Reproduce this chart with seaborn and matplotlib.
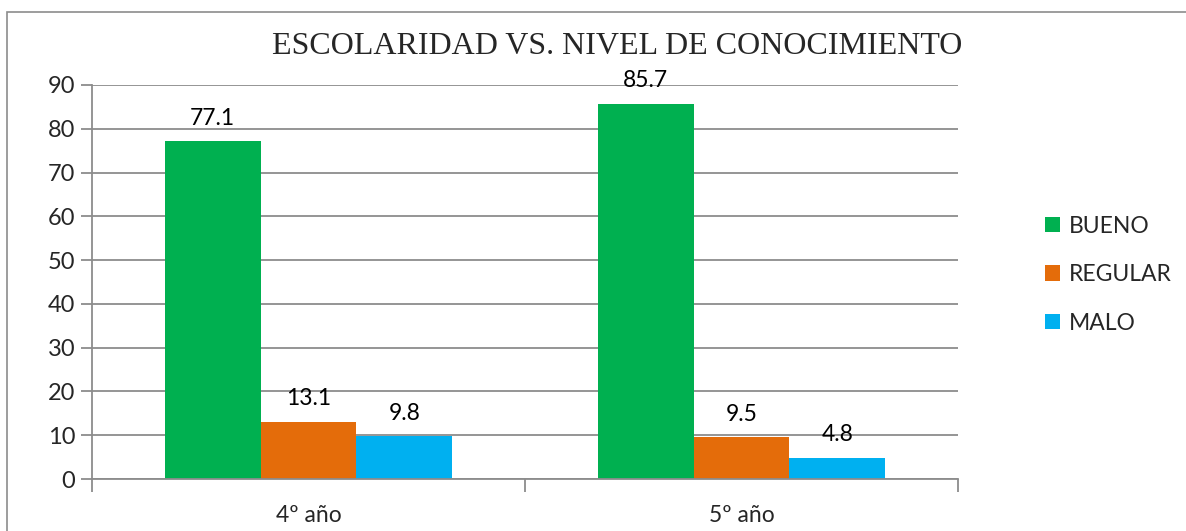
import matplotlib.pyplot as plt
import matplotlib.patches as patches
import seaborn as sns
import pandas as pd

categorias = ['4º año', '5º año']
niveles = ['BUENO', 'REGULAR', 'MALO']
bueno = [77.1, 85.7]
regular = [13.1, 9.5]
malo = [9.8, 4.8]
colores = ['#00B050', '#E46C0A', '#00B0F0']

df = pd.DataFrame({
    'ANIO': categorias * 3,
    'NIVEL': [n for n in niveles for _ in categorias],
    'VALOR': bueno + regular + malo,
})

sns.set_style('white')
plt.rcParams['font.family'] = ['Lato', 'DejaVu Sans']

fig = plt.figure(figsize=(11.86, 5.31), dpi=100)
ax = fig.add_axes([92 / 1186, 52 / 531, 866 / 1186, 394 / 531])

sns.barplot(data=df, x='ANIO', y='VALOR', hue='NIVEL', order=categorias,
            hue_order=niveles, palette=colores, width=0.665, gap=0,
            saturation=1, edgecolor='none', linewidth=0, ax=ax)

for cont in ax.containers:
    ax.bar_label(cont, fmt='%.1f', padding=9, fontsize=16.5, color='#000000')

gris = '#8c8c8c'
ax.set_ylim(0, 90)
ax.set_xlim(-0.5, 1.5)
ax.set_yticks(range(0, 91, 10))
ax.yaxis.grid(True, color=gris, linewidth=1.3)
ax.set_axisbelow(True)
ax.tick_params(axis='y', which='major', length=8, width=1.3, color=gris,
               labelsize=17, pad=4, left=True)

# marcas en los límites de categoría, etiquetas centradas
ax.set_xticks([-0.5, 0.5, 1.5])
ax.set_xticklabels(['', '', ''])
ax.set_xticks([0, 1], minor=True)
ax.set_xticklabels(categorias, minor=True)
ax.tick_params(axis='x', which='major', length=9, width=1.3, color=gris,
               bottom=True, direction='out')
ax.tick_params(axis='x', which='minor', length=0, labelsize=16.5, pad=19)

for lado in ['top', 'right']:
    ax.spines[lado].set_visible(False)
for lado in ['left', 'bottom']:
    ax.spines[lado].set_color(gris)
    ax.spines[lado].set_linewidth(1.3)

ax.set_xlabel('')
ax.set_ylabel('')

leg = ax.legend(loc='center left', bbox_to_anchor=(1.077, 0.519), frameon=False,
                fontsize=16.5, handlelength=0.65, handleheight=0.65,
                handletextpad=0.4, labelspacing=1.2)

fig.text(617 / 1186, 1 - 47 / 531, 'ESCOLARIDAD VS. NIVEL DE CONOCIMIENTO',
         ha='center', va='center', fontsize=23, family='Liberation Serif')

borde = patches.Rectangle((7 / 1186, -0.05), 1.1, 1 - 12 / 531 + 0.05,
                          transform=fig.transFigure, fill=False,
                          edgecolor=gris, linewidth=1.2)
fig.patches.append(borde)

fig.savefig('out.png', dpi=100)
